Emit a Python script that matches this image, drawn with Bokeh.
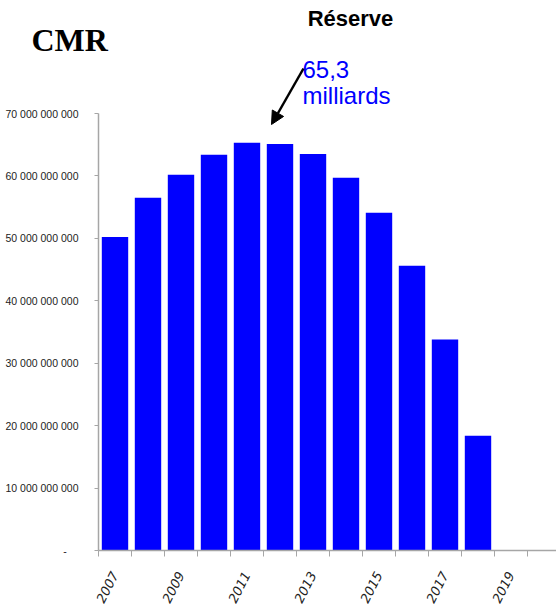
from bokeh.plotting import figure
from bokeh.models import (ColumnDataSource, Range1d, FixedTicker, Label, Arrow,
                          NormalHead)
from bokeh.embed import file_html
from bokeh.resources import INLINE
import math

# Reserve of the CMR fund, per year (in euros)
years = [2007, 2008, 2009, 2010, 2011, 2012, 2013, 2014, 2015, 2016, 2017, 2018, 2019, 2020]
reserve = [50.2e9, 56.5e9, 60.2e9, 63.4e9, 65.3e9, 65.1e9, 63.5e9, 59.7e9,
           54.1e9, 45.6e9, 33.8e9, 18.4e9, 0, 0]
label_years = [2007, 2009, 2011, 2013, 2015, 2017, 2019]
y_ticks = [0, 10e9, 20e9, 30e9, 40e9, 50e9, 60e9, 70e9]
y_tick_labels = ["-\u00a0\u00a0\u00a0\u00a0", "10 000 000 000", "20 000 000 000",
                 "30 000 000 000", "40 000 000 000", "50 000 000 000",
                 "60 000 000 000", "70 000 000 000"]
peak_label = ["65,3", "milliards"]

W, H = 556, 611
AXIS_LEFT = 98            # pixel column of the y axis
AXIS_TOP = 113            # pixel row of the 70 billion tick
AXIS_BOTTOM = 550         # pixel row of the x axis
px_per_year = 33.0
y_max = 70e9
y_per_px = y_max / (AXIS_BOTTOM - AXIS_TOP)

x_first = years[0] - 0.5
x_start = x_first - AXIS_LEFT / px_per_year
x_end = x_start + W / px_per_year
y_start = -(H - AXIS_BOTTOM) * y_per_px
y_end = AXIS_BOTTOM * y_per_px

# the frame covers the whole canvas; both axes are pinned inside it
p = figure(width=W, height=H, output_backend="svg", toolbar_location=None,
           x_range=Range1d(x_start, x_end), y_range=Range1d(y_start, y_end),
           min_border_left=0, min_border_top=0, min_border_bottom=0,
           min_border_right=0)
p.outline_line_color = None
p.xgrid.visible = False
p.ygrid.visible = False
p.background_fill_color = "white"
p.border_fill_color = "white"

src = ColumnDataSource(dict(x=years, top=reserve))
p.vbar(x="x", top="top", width=0.8, source=src, fill_color="#0000ff", line_color=None)

# x axis at zero: tick marks between years, labels on odd years
xa = p.xaxis[0]
xa.fixed_location = 0
xa.bounds = (x_first, x_end)
xa.ticker = FixedTicker(ticks=label_years, minor_ticks=[y - 0.5 for y in years] + [years[-1] + 0.5])
xa.major_tick_out = 0
xa.major_tick_in = 0
xa.minor_tick_out = 6
xa.minor_tick_in = 0
xa.minor_tick_line_color = "#a6a6a6"
xa.axis_line_color = "#a6a6a6"
xa.axis_line_width = 1.5
xa.major_label_orientation = math.radians(63)
xa.major_label_standoff = 16
xa.major_label_text_font = "DejaVu Sans"
xa.major_label_text_font_style = "italic"
xa.major_label_text_font_size = "13px"
xa.major_label_text_color = "#222222"

# y axis pinned at the first category edge, drawn only up to 70 billion
ya = p.yaxis[0]
ya.fixed_location = x_first
ya.ticker = FixedTicker(ticks=y_ticks)
ya.bounds = (0, y_max)
ya.major_label_overrides = {t: s for t, s in zip(y_ticks, y_tick_labels)}
ya.major_tick_out = 4
ya.major_tick_in = 0
ya.minor_tick_out = 0
ya.minor_tick_in = 0
ya.major_tick_line_color = "#a6a6a6"
ya.axis_line_color = "#a6a6a6"
ya.axis_line_width = 1.5
ya.major_label_standoff = 16
ya.major_label_text_font = "Liberation Sans"
ya.major_label_text_font_size = "10.5px"
ya.major_label_text_color = "#222222"


def dx(px):
    return x_start + px / px_per_year


def dy(py):
    return (AXIS_BOTTOM - py) * y_per_px


p.add_layout(Label(x=dx(31), y=dy(39), text="CMR", text_align="left",
                   text_baseline="alphabetic", text_font="Liberation Serif",
                   text_font_style="bold", text_font_size="32px", text_color="black"))
p.add_layout(Label(x=dx(350), y=dy(18), text="Réserve", text_align="center",
                   text_baseline="alphabetic", text_font="Liberation Sans",
                   text_font_style="bold", text_font_size="22px", text_color="black"))
p.add_layout(Label(x=dx(302), y=dy(69), text=peak_label[0], text_align="left",
                   text_baseline="alphabetic", text_font="Liberation Sans",
                   text_font_size="24px", text_color="#0000ff"))
p.add_layout(Label(x=dx(302), y=dy(95), text=peak_label[1], text_align="left",
                   text_baseline="alphabetic", text_font="Liberation Sans",
                   text_font_size="24px", text_color="#0000ff"))
p.add_layout(Arrow(x_start=dx(303), y_start=dy(68), x_end=dx(271), y_end=dy(124),
                   line_color="black", line_width=2.5,
                   end=NormalHead(size=13, fill_color="black", line_color="black")))

open("out.html", "w").write(file_html(p, INLINE))
